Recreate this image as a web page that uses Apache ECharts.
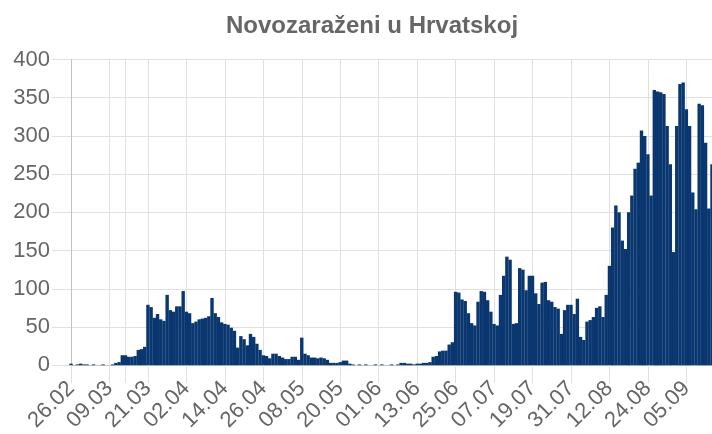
<!DOCTYPE html>
<html>
<head>
<meta charset="utf-8">
<title>Novozaraženi u Hrvatskoj</title>
<script src="https://cdn.jsdelivr.net/npm/echarts@6/dist/echarts.min.js"></script>
<style>
  html, body { margin: 0; padding: 0; background: #fff; }
  #chart { width: 712px; height: 434px; }
</style>
</head>
<body>
<div id="chart"></div>
<script>
// dnevni broj novozaraženih, prvi dan je 26.02.2020.
const chartTitle = 'Novozaraženi u Hrvatskoj';
const firstDay = '2020-02-26';

// 26.02 - 13.05 (prvi val)
const firstWave = [
    2, 0, 1, 2, 1, 1, 0, 1, 0, 0, 1, 0, 0, 1, 3, 4, 13, 13, 11, 11,
    12, 20, 21, 24, 79, 76, 62, 67, 60, 58, 92, 72, 70, 77, 77, 97, 70, 68, 55, 57,
    60, 61, 62, 64, 88, 68, 63, 56, 54, 53, 49, 45, 23, 38, 34, 26, 41, 37, 28, 20,
    13, 12, 9, 15, 15, 12, 10, 8, 8, 11, 11, 7, 36, 15, 13, 10, 10, 9
];
// 14.05 - 17.06 (zatišje)
const lull = [
    10, 9, 7, 3, 3, 3, 4, 6, 6, 2, 1, 0, 1, 0, 1, 0, 0, 1, 0, 1,
    0, 0, 1, 0, 1, 3, 3, 2, 2, 1, 2, 2, 3, 3, 4
];
// 18.06 - 13.09 (drugi val)
const secondWave = [
    11, 12, 18, 19, 19, 27, 30, 96, 95, 86, 84, 68, 55, 52, 83, 97, 96, 85, 70, 54,
    52, 92, 117, 142, 138, 54, 55, 127, 125, 98, 117, 117, 94, 80, 108, 109, 85, 83, 76, 74,
    41, 72, 79, 79, 67, 87, 37, 33, 57, 59, 63, 75, 77, 63, 92, 130, 180, 209, 200, 163,
    152, 200, 222, 257, 265, 307, 300, 276, 222, 360, 358, 357, 355, 313, 263, 148, 313, 368, 370, 335,
    313, 226, 204, 342, 340, 291, 205, 263
];

const newCases = firstWave.concat(lull, secondWave);

const yMin = 0;
const yMax = 400;
const yStep = 50;
const labelEvery = 12;   // natpis svakih 12 dana
const extraTick = 17;    // dodatna crta (14.03)

function buildDays(start, count) {
    const out = [];
    const d = new Date(start + 'T00:00:00Z');
    for (let i = 0; i < count; i++) {
        const dd = String(d.getUTCDate()).padStart(2, '0');
        const mm = String(d.getUTCMonth() + 1).padStart(2, '0');
        out.push(dd + '.' + mm);
        d.setUTCDate(d.getUTCDate() + 1);
    }
    return out;
}

const days = buildDays(firstDay, newCases.length);
const fontFamily = '"Liberation Sans", Arial, Helvetica, sans-serif';
const gridColor = '#e0e0e0';
const axisColor = '#c2c2c2';
const tickFilter = (index) => index % labelEvery === 0 || index === extraTick;

const chart = echarts.init(document.getElementById('chart'));

const option = {
    animation: false,
    title: {
        text: chartTitle,
        left: 367,
        top: 9,
        textAlign: 'center',
        textStyle: { fontSize: 24, fontWeight: 'bold', color: '#666', fontFamily }
    },
    grid: { left: 71, right: 0, top: 59.5, bottom: 68.5 },
    xAxis: {
        type: 'category',
        data: days,
        boundaryGap: false,
        axisLine: { lineStyle: { color: axisColor } },
        axisTick: { length: 18, interval: tickFilter, lineStyle: { color: gridColor } },
        axisLabel: { interval: labelEvery - 1, rotate: 45, margin: 20, fontSize: 22, color: '#666', fontFamily },
        splitLine: { show: true, interval: tickFilter, lineStyle: { color: gridColor } }
    },
    yAxis: {
        type: 'value',
        min: yMin,
        max: yMax,
        interval: yStep,
        axisLine: { show: true, lineStyle: { color: axisColor } },
        axisTick: { show: true, length: 19, lineStyle: { color: gridColor } },
        axisLabel: { margin: 21, fontSize: 22, color: '#666', fontFamily },
        splitLine: { lineStyle: { color: gridColor } }
    },
    series: [{
        type: 'bar',
        data: newCases,
        barWidth: 3.4,
        itemStyle: { color: '#0a376f' }
    }]
};

chart.setOption(option);
</script>
</body>
</html>
